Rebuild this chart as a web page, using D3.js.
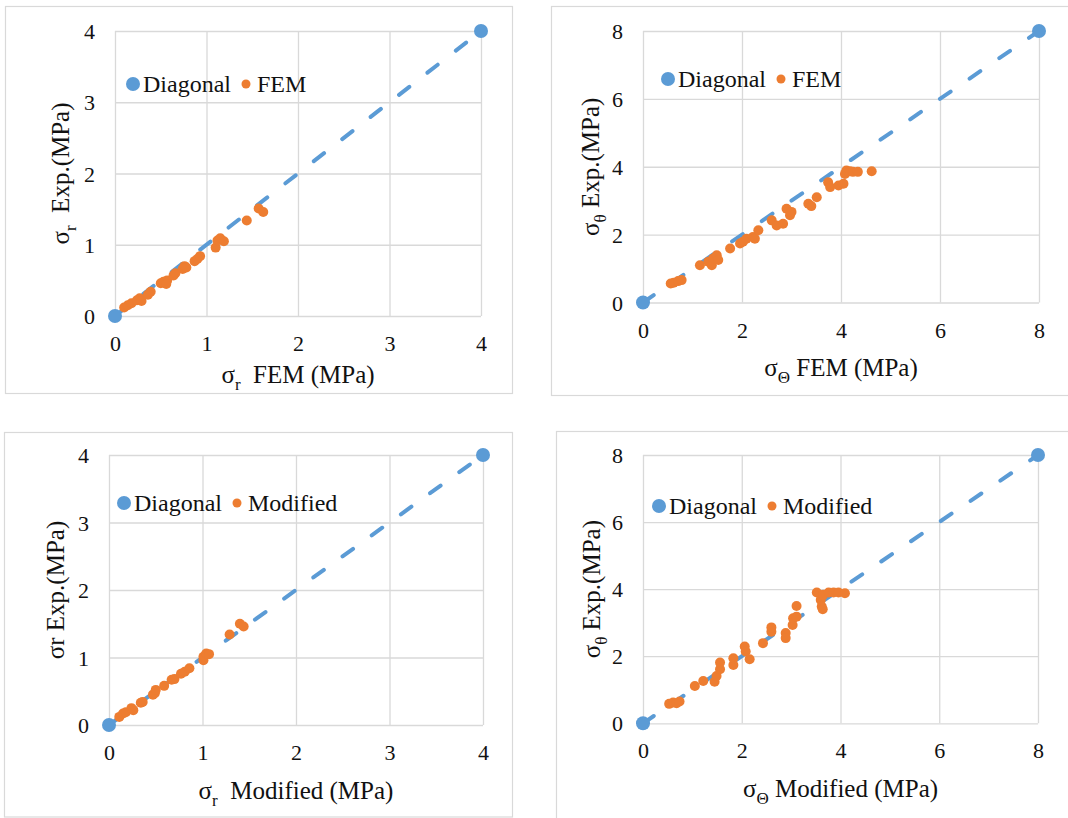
<!DOCTYPE html>
<html>
<head>
<meta charset="utf-8">
<script src="https://cdn.jsdelivr.net/npm/d3@7"></script>
<style>
  html, body { margin: 0; padding: 0; background: #fff; }
  svg { display: block; }
  svg text { font-family: "Liberation Serif", "DejaVu Serif", "Noto Serif", "Times New Roman", Times, serif; fill: #111; white-space: pre; }
</style>
</head>
<body>
<svg id="chart" width="1068" height="818"></svg>
<script>
// Diagonal (line of equality) end values
const diagR = [0, 4];
const diagTheta = [0, 8];

// Tick labels
const ticksR = [0, 1, 2, 3, 4];
const ticksTheta = [0, 2, 4, 6, 8];

// Radial stress: FEM vs experiment (MPa)
const rFemX = [0.10,0.14,0.18,0.24,0.27,0.29,0.36,0.39,0.50,0.53,0.57,0.56,0.64,0.66,0.74,0.76,0.78,0.87,0.90,0.93,1.10,1.12,1.15,1.19,1.44,1.57,1.62];
const rFemY = [0.12,0.15,0.18,0.22,0.25,0.21,0.30,0.34,0.46,0.48,0.50,0.45,0.57,0.60,0.66,0.70,0.68,0.77,0.80,0.84,0.96,1.06,1.09,1.05,1.34,1.51,1.46];

// Hoop stress: FEM vs experiment (MPa)
const tFemX = [0.56,0.62,0.71,0.78,1.15,1.32,1.39,1.42,1.49,1.52,1.76,1.96,2.02,2.09,2.22,2.26,2.33,2.60,2.70,2.83,2.90,2.97,3.00,3.34,3.40,3.51,3.74,3.78,3.95,4.05,4.08,4.11,4.18,4.24,4.34,4.62];
const tFemY = [0.56,0.58,0.63,0.66,1.10,1.20,1.10,1.30,1.39,1.25,1.59,1.74,1.79,1.88,1.93,1.88,2.13,2.42,2.27,2.32,2.76,2.57,2.67,2.91,2.84,3.10,3.54,3.40,3.45,3.50,3.79,3.89,3.87,3.85,3.85,3.87];

// Radial stress: modified model vs experiment (MPa)
const rModX = [0.11,0.15,0.18,0.24,0.26,0.34,0.36,0.47,0.49,0.50,0.59,0.67,0.70,0.77,0.81,0.86,1.01,1.01,1.04,1.07,1.29,1.40,1.44];
const rModY = [0.12,0.17,0.19,0.25,0.22,0.33,0.34,0.45,0.47,0.52,0.58,0.67,0.68,0.76,0.79,0.84,0.96,1.01,1.06,1.05,1.34,1.50,1.46];

// Hoop stress: modified model vs experiment (MPa)
const tModX = [0.53,0.61,0.68,0.74,1.05,1.22,1.45,1.49,1.56,1.56,1.83,1.83,2.06,2.08,2.16,2.43,2.60,2.60,2.89,2.89,3.03,3.04,3.11,3.11,3.52,3.60,3.62,3.64,3.65,3.76,3.86,3.96,4.09];
const tModY = [0.58,0.62,0.60,0.65,1.11,1.26,1.24,1.41,1.61,1.81,1.74,1.94,2.29,2.14,1.91,2.39,2.73,2.86,2.69,2.54,2.93,3.13,3.18,3.50,3.90,3.68,3.48,3.40,3.83,3.90,3.90,3.90,3.88];

const BLUE = "#5B9BD5", ORANGE = "#ED7D31", GRID = "#d9d9d9";
const SERIF = '"Liberation Serif", "DejaVu Serif", "Noto Serif", "Times New Roman", Times, serif';

const panels = [
  { frame: [5, 6, 512, 393], plot: [115, 31, 481, 316], diag: diagR, ticks: ticksR,
    xs: rFemX, ys: rFemY, series: "FEM", legend: [133, 84],
    xTitle: ["σ", "r", "  FEM (MPa)"], xTitleY: 383,
    yTitle: ["σ", "r", "  Exp.(MPa)"], yTitleX: 69 },
  { frame: [551, 6, 1075, 395], plot: [643, 31, 1039, 302.5], diag: diagTheta, ticks: ticksTheta,
    xs: tFemX, ys: tFemY, series: "FEM", legend: [668, 79],
    xTitle: ["σ", "Θ", " FEM (MPa)"], xTitleY: 376,
    yTitle: ["σ", "θ", " Exp.(MPa)"], yTitleX: 599 },
  { frame: [4, 432, 512, 816.5], plot: [109, 455, 483, 725], diag: diagR, ticks: ticksR,
    xs: rModX, ys: rModY, series: "Modified", legend: [124, 503],
    xTitle: ["σ", "r", "  Modified (MPa)"], xTitleY: 799,
    yTitle: ["σr Exp.(MPa)", "", ""], yTitleX: 64 },
  { frame: [556, 431, 1075, 830], plot: [643, 455, 1038, 723.3], diag: diagTheta, ticks: ticksTheta,
    xs: tModX, ys: tModY, series: "Modified", legend: [659, 506],
    xTitle: ["σ", "Θ", " Modified (MPa)"], xTitleY: 797,
    yTitle: ["σ", "θ", " Exp.(MPa)"], yTitleX: 600 }
];

const svg = d3.select("#chart").attr("font-family", SERIF);

function addTitle(sel, parts, size) {
  sel.append("tspan").text(parts[0]);
  if (parts[1]) {
    sel.append("tspan").attr("font-size", size * 0.68).attr("dy", size * 0.28).text(parts[1]);
    sel.append("tspan").attr("dy", -size * 0.28).text(parts[2]);
  }
}

panels.forEach(p => {
  const g = svg.append("g");
  const [fx0, fy0, fx1, fy1] = p.frame;
  const [px0, py0, px1, py1] = p.plot;

  // Chart-area border
  g.append("rect")
    .attr("x", fx0 + 0.5).attr("y", fy0 + 0.5)
    .attr("width", fx1 - fx0).attr("height", fy1 - fy0)
    .attr("fill", "#fff").attr("stroke", GRID).attr("stroke-width", 1.2);

  const x = d3.scaleLinear().domain(p.diag).range([px0, px1]);
  const y = d3.scaleLinear().domain(p.diag).range([py1, py0]);

  // Gridlines
  g.append("g").attr("transform", `translate(0,${py1})`)
    .call(d3.axisBottom(x).tickValues(p.ticks).tickSize(-(py1 - py0)).tickFormat(""))
    .call(a => a.select(".domain").remove())
    .call(a => a.selectAll("line").attr("stroke", GRID).attr("stroke-width", 1.3));
  g.append("g").attr("transform", `translate(${px0},0)`)
    .call(d3.axisLeft(y).tickValues(p.ticks).tickSize(-(px1 - px0)).tickFormat(""))
    .call(a => a.select(".domain").remove())
    .call(a => a.selectAll("line").attr("stroke", GRID).attr("stroke-width", 1.3));

  // Tick labels
  g.append("g").attr("transform", `translate(0,${py1 + 35})`)
    .call(d3.axisBottom(x).tickValues(p.ticks).tickSize(0).tickPadding(0).tickFormat(d3.format("d")))
    .attr("font-family", SERIF).attr("font-size", 22)
    .call(a => a.select(".domain").remove())
    .call(a => a.selectAll("text").attr("dy", 0).attr("fill", "#111"));
  g.append("g").attr("transform", `translate(${px0 - 20},0)`)
    .call(d3.axisLeft(y).tickValues(p.ticks).tickSize(0).tickPadding(0).tickFormat(d3.format("d")))
    .attr("font-family", SERIF).attr("font-size", 22)
    .call(a => a.select(".domain").remove())
    .call(a => a.selectAll("text").attr("dy", 7.5).attr("fill", "#111"));

  // Diagonal line of equality
  g.append("line")
    .attr("x1", x(p.diag[0])).attr("y1", y(p.diag[0]))
    .attr("x2", x(p.diag[1])).attr("y2", y(p.diag[1]))
    .attr("stroke", BLUE).attr("stroke-width", 4)
    .attr("stroke-dasharray", "13 23").attr("stroke-linecap", "round");
  g.selectAll("circle.diag").data(p.diag).enter().append("circle")
    .attr("class", "diag")
    .attr("cx", d => x(d)).attr("cy", d => y(d)).attr("r", 7).attr("fill", BLUE);

  // Measured vs predicted points
  g.selectAll("circle.pt").data(p.xs.map((v, i) => [v, p.ys[i]])).enter().append("circle")
    .attr("class", "pt")
    .attr("cx", d => x(d[0])).attr("cy", d => y(d[1])).attr("r", 5).attr("fill", ORANGE);

  // Legend
  const [lx, ly] = p.legend;
  g.append("circle").attr("cx", lx).attr("cy", ly).attr("r", 7).attr("fill", BLUE);
  const t1 = g.append("text").attr("x", lx + 10).attr("y", ly + 8).attr("font-size", 24).text("Diagonal");
  const end1 = lx + 10 + t1.node().getComputedTextLength();
  g.append("circle").attr("cx", end1 + 15).attr("cy", ly).attr("r", 4.5).attr("fill", ORANGE);
  g.append("text").attr("x", end1 + 26).attr("y", ly + 8).attr("font-size", 24).text(p.series);

  // Axis titles
  const xt = g.append("text").attr("x", (px0 + px1) / 2).attr("y", p.xTitleY)
    .attr("text-anchor", "middle").attr("font-size", 25);
  addTitle(xt, p.xTitle, 25);
  const yt = g.append("text")
    .attr("transform", `translate(${p.yTitleX},${(py0 + py1) / 2}) rotate(-90)`)
    .attr("text-anchor", "middle").attr("font-size", 25);
  addTitle(yt, p.yTitle, 25);
});
</script>
</body>
</html>
